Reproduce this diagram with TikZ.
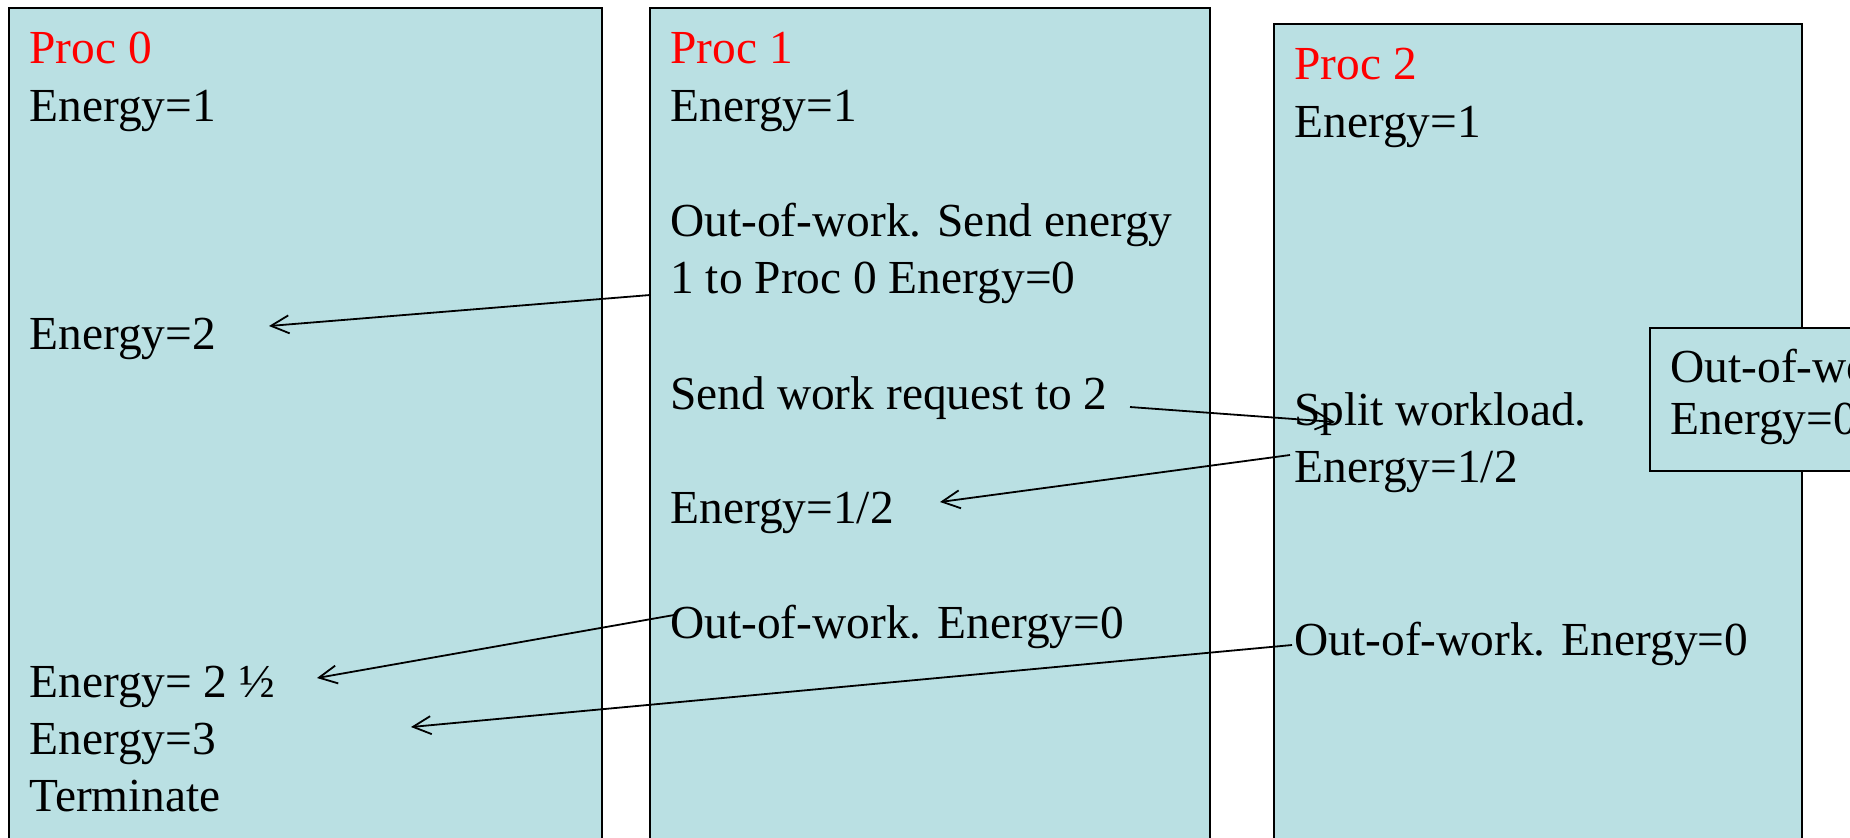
\documentclass[tikz,border=0pt]{standalone}
\usepackage{fontspec}
\setmainfont{Liberation Serif}
\usetikzlibrary{arrows.meta}
\definecolor{procfill}{RGB}{186,224,227}
\definecolor{proctitle}{RGB}{255,0,0}
\tikzset{
  procbox/.style={fill=procfill,draw=black,line width=1pt},
  txt/.style={anchor=base west,inner sep=0pt,font=\fontsize{23.7}{28}\selectfont},
  title/.style={txt,text=proctitle},
  msg/.style={line width=0.9pt,-{Straight Barb[length=9pt,width=9pt,line width=0.9pt]}}
}
\begin{document}
\begin{tikzpicture}[x=0.5pt,y=-0.5pt]
\useasboundingbox (0,0) rectangle (1850,837);
\clip (0,0) rectangle (1850,837);

% processor columns
\draw[procbox] (9,8) rectangle (602,860);
\draw[procbox] (650,8) rectangle (1210,860);
\draw[procbox] (1274,24) rectangle (1802,860);
\draw[procbox] (1650,328) rectangle (1870,471);

% Proc 0
\node[title] (p0) at (29,63) {Proc 0};
\node[txt] (p0e1) at (29,121) {Energy=1};
\node[txt] (p0e2) at (29,349) {Energy=2};
\node[txt] (p0e25) at (29,697) {Energy= 2 ½};
\node[txt] (p0e3) at (29,754) {Energy=3};
\node[txt] (p0t) at (29,811) {Terminate};

% Proc 1
\node[title] (p1) at (670,63) {Proc 1};
\node[txt] (p1e1) at (670,121) {Energy=1};
\node[txt] (p1oow) at (670,236) {Out-of-work. Send energy};
\node[txt] (p1send) at (670,293) {1 to Proc 0 Energy=0};
\node[txt] (p1req) at (670,409) {Send work request to 2};
\node[txt] (p1half) at (670,523) {Energy=1/2};
\node[txt] (p1end) at (670,638) {Out-of-work. Energy=0};

% Proc 2
\node[title] (p2) at (1294,79) {Proc 2};
\node[txt] (p2e1) at (1294,137) {Energy=1};
\node[txt] (p2split) at (1294,425) {Split workload.};
\node[txt] (p2half) at (1294,482) {Energy=1/2};
\node[txt] (p2end) at (1294,655) {Out-of-work. Energy=0};

% partially visible box on the right
\node[txt] (p3oow) at (1670,382) {Out-of-work.};
\node[txt] (p3e0) at (1670,434) {Energy=0};

% message end points
\coordinate (m1s) at (650,295);  \coordinate (m1e) at (269,326);
\coordinate (m2s) at (1130,407); \coordinate (m2e) at (1335,422);
\coordinate (m3s) at (1290,455); \coordinate (m3e) at (940,502);
\coordinate (m4s) at (674,615);  \coordinate (m4e) at (317,678);
\coordinate (m5s) at (1292,645); \coordinate (m5e) at (411,727);

% messages
\draw[msg] (m1s) -- (m1e);
\draw[msg] (m2s) -- (m2e);
\draw[msg] (m3s) -- (m3e);
\draw[msg] (m4s) -- (m4e);
\draw[msg] (m5s) -- (m5e);
\end{tikzpicture}
\end{document}
